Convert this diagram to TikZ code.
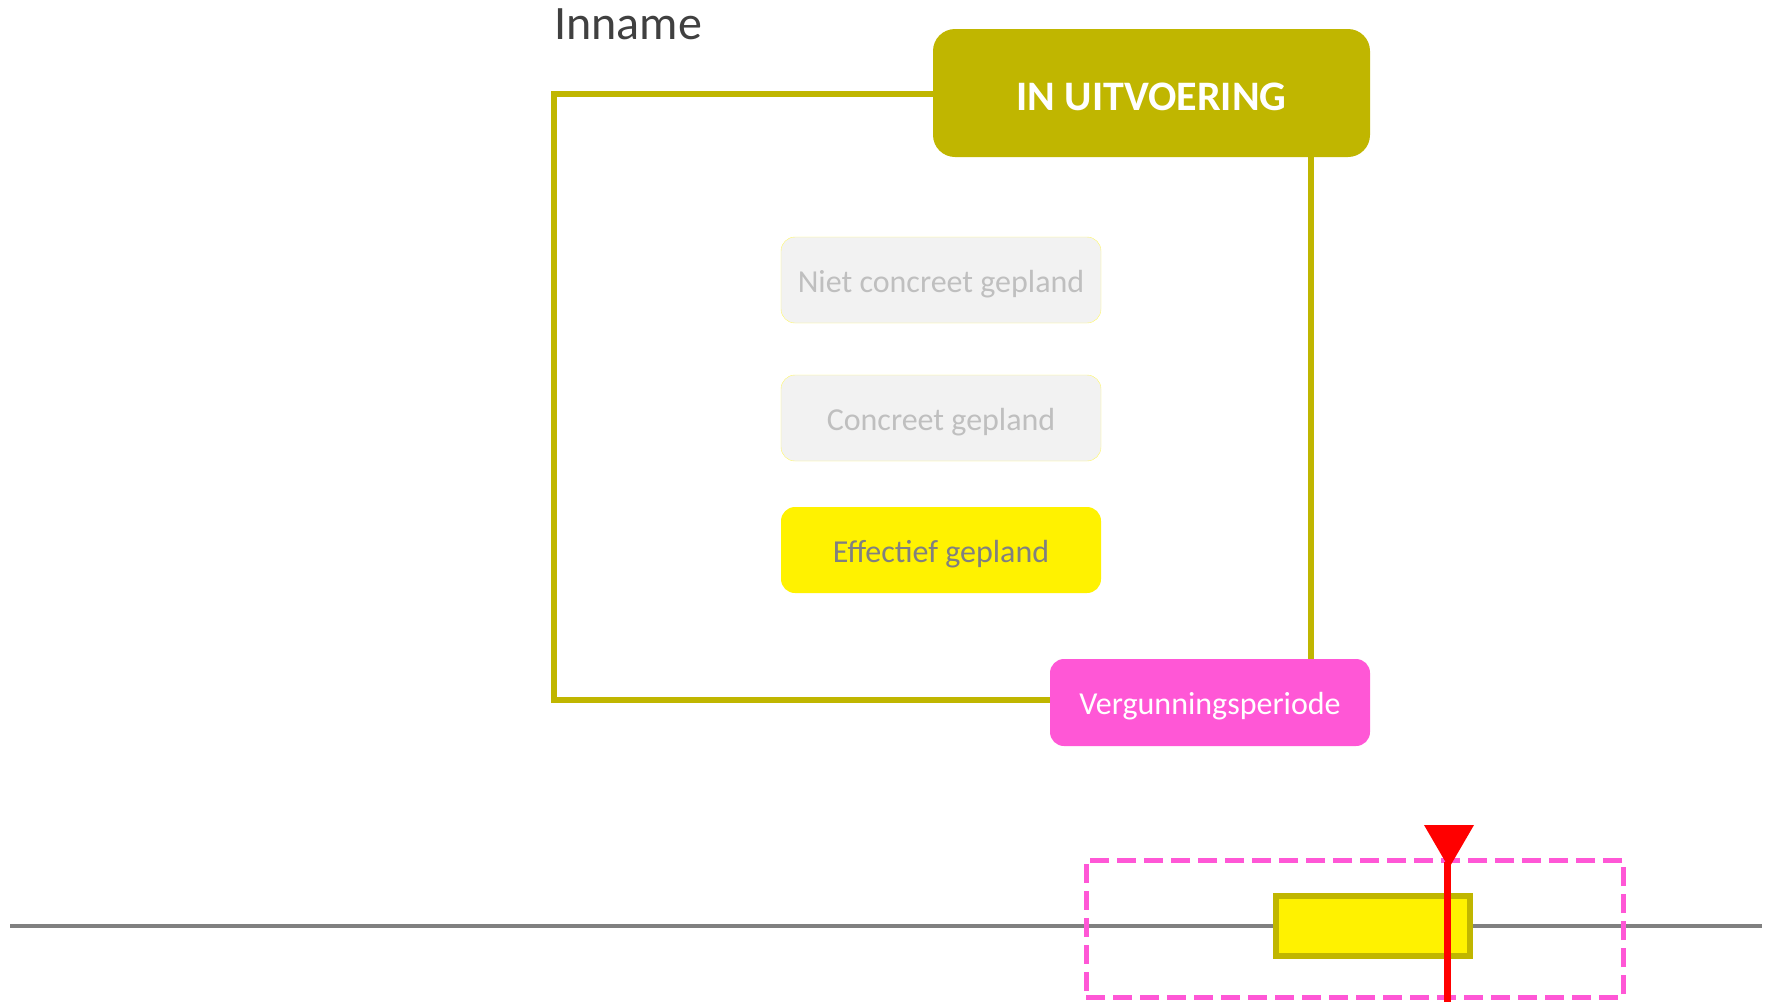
\documentclass[tikz,border=0pt]{standalone}
\usepackage{fontspec}
\setmainfont{Carlito}
\usepackage{tikz}
\usetikzlibrary{positioning, calc}
\definecolor{olivebar}{RGB}{192, 182, 0}
\definecolor{planyellow}{RGB}{255, 242, 0}
\definecolor{permitpink}{RGB}{255, 87, 214}
\definecolor{boxgray}{RGB}{242, 242, 242}
\definecolor{textgray}{RGB}{191, 191, 191}
\definecolor{darktext}{RGB}{64, 64, 64}
\definecolor{axisgray}{RGB}{128, 128, 128}

\begin{document}
\begin{tikzpicture}[
		x=1pt, y=-1pt,
		statebox/.style={rectangle, rounded corners=14pt, minimum width=320pt, minimum height=86pt, inner sep=0pt, text height=24pt, text depth=0pt, font=\fontsize{32}{38}\selectfont, align=center},
		headbox/.style={rectangle, rounded corners=22pt, fill=olivebar, minimum width=437pt, minimum height=128pt, inner sep=0pt, text height=34pt, text depth=0pt, text=white, font=\fontsize{42}{50}\selectfont\bfseries},
		framebar/.style={draw=olivebar, line width=6pt},
		periodbox/.style={rectangle, draw=permitpink, line width=5pt, dash pattern=on 19pt off 8pt, minimum width=537pt, minimum height=137pt, inner sep=0pt}
		]
		\useasboundingbox (0,0) rectangle (1767,1002);
		
		% Frame round the states
		\coordinate (frame_tl) at (554, 94);
		\coordinate (frame_br) at (1311, 700);
		\draw[framebar] (frame_tl) rectangle (frame_br);
		
		% Title and status
		\node[anchor=base west, inner sep=0pt, text=darktext, font=\fontsize{48}{58}\selectfont] (lbl_inname) at (554, 39) {Inname};
		\node[headbox] (status) at (1151.5, 93) {IN UITVOERING};
		
		% Planning states
		\node[statebox, fill=boxgray, draw=planyellow!60, thin, text=textgray] (st_niet) at (941, 280) {Niet concreet gepland};
		\node[statebox, fill=boxgray, draw=planyellow!60, thin, text=textgray] (st_conc) at (941, 418) {Concreet gepland};
		\node[statebox, fill=planyellow, text=axisgray] (st_eff) at (941, 550) {Effectief gepland};
		\node[statebox, fill=permitpink, text=white, minimum height=87pt] (permit) at (1210, 702.5) {Vergunningsperiode};
		
		% Time axis
		\coordinate (axis_l) at (10, 926);
		\coordinate (axis_r) at (1762, 926);
		\draw[axisgray, line width=4pt] (axis_l) -- (axis_r);
		\node[periodbox] (period) at (1354.5, 928.5) {};
		\node[rectangle, fill=planyellow, draw=olivebar, line width=6pt, minimum width=194pt, minimum height=60pt, inner sep=0pt] (occupy) at (1373, 926) {};
		
		% Today marker
		\coordinate (now_top) at (1447, 862);
		\coordinate (now_bot) at (1447, 1002);
		\draw[red, line width=7pt] (now_top) -- (now_bot);
		\fill[red] (1424, 825) -- (1474, 825) -- (1449, 868) -- cycle;
	\end{tikzpicture}
\end{document}
